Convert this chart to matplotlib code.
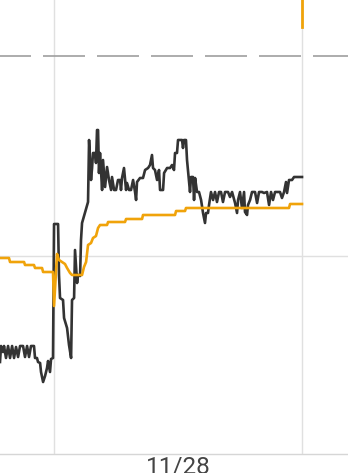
import matplotlib.pyplot as plt

plt.rcParams['font.family'] = ['Roboto', 'DejaVu Sans']

# hours relative to 11/28 00:00
black_t = [-5.23, -5.13, -4.94, -4.84, -4.65, -4.45, -4.26, -4.06, -3.87, -3.68,
           -3.48, -3.29, -3.00, -2.81, -2.61, -2.42, -2.23, -1.94, -1.84, -1.65,
           -1.55, -1.35, -1.26, -1.06, -0.87, -0.68, -0.58, -0.39, -0.29, -0.10,
           0.00, 0.29, 0.39, 0.48, 0.58, 0.87, 0.97, 1.26, 1.45, 1.65,
           1.74, 1.94, 2.03, 2.23, 2.32, 2.52, 2.61, 2.71, 3.29, 3.39,
           3.48, 3.58, 3.68, 3.77, 3.97, 4.06, 4.16, 4.26, 4.35, 4.45,
           4.65, 4.74, 4.94, 5.13, 5.32, 5.52, 5.61, 5.81, 6.00, 6.19,
           6.39, 6.48, 6.58, 6.77, 6.97, 7.06, 7.26, 7.45, 7.65, 7.84,
           7.94, 8.03, 8.32, 8.61, 8.81, 9.10, 9.29, 9.48, 9.58, 9.77,
           9.97, 10.16, 10.26, 10.55, 10.65, 10.94, 11.23, 11.42, 11.61, 11.71,
           11.90, 12.00, 12.39, 12.48, 12.58, 12.77, 12.87, 13.16, 13.26, 13.45,
           13.55, 13.65, 13.84, 14.03, 14.23, 14.42, 14.61, 14.71, 14.90, 15.00,
           15.19, 15.39, 15.58, 15.77, 15.97, 16.16, 16.35, 16.55, 16.84, 17.03,
           17.23, 17.52, 17.71, 17.81, 18.00, 18.19, 18.39, 18.48, 18.68, 18.77,
           18.97, 19.16, 19.45, 19.65, 19.84, 20.13, 20.32, 20.61, 20.81, 21.00,
           21.19, 21.39, 21.87, 22.06, 22.26, 22.45, 22.55, 22.74, 23.03, 23.23,
           24.00]
black_v = [-10.6, -9.0, -9.6, -9.0, -10.2, -9.0, -10.2, -9.0, -10.2, -9.1,
           -10.1, -9.0, -9.0, -10.1, -9.0, -10.1, -9.0, -9.0, -10.2, -10.2,
           -10.6, -10.7, -11.6, -12.6, -12.0, -11.2, -10.5, -11.6, -10.3, -10.2,
           3.2, 3.2, 3.2, -1.9, -4.2, -4.4, -6.2, -7.2, -8.9, -10.2,
           -4.4, -4.2, 0.6, -2.7, -1.9, -2.0, 1.6, 3.3, 5.4, 11.6,
           9.6, 7.6, 8.8, 10.3, 10.3, 9.3, 12.6, 12.6, 8.3, 10.3,
           6.6, 9.6, 6.9, 8.9, 7.6, 6.6, 7.9, 6.6, 6.6, 7.6,
           7.6, 6.6, 7.8, 8.8, 6.6, 7.3, 6.6, 6.6, 7.6, 6.4,
           5.6, 7.4, 7.8, 7.8, 8.6, 8.8, 9.1, 10.1, 8.8, 8.6,
           7.6, 8.6, 6.6, 6.6, 8.3, 8.8, 8.8, 9.1, 8.6, 10.3,
           10.3, 11.6, 11.6, 10.8, 11.6, 11.6, 9.6, 6.4, 7.9, 7.9,
           5.6, 7.8, 6.4, 6.4, 5.6, 4.3, 3.3, 4.3, 4.3, 5.1,
           6.4, 5.6, 6.4, 5.4, 6.4, 6.4, 5.4, 6.4, 6.4, 5.9,
           6.4, 5.3, 4.3, 5.6, 6.4, 4.8, 6.4, 4.4, 4.1, 5.1,
           5.6, 6.4, 6.4, 5.3, 6.4, 6.4, 6.3, 6.4, 5.1, 6.4,
           5.6, 6.4, 6.4, 5.8, 6.4, 7.4, 6.3, 7.6, 7.6, 7.9,
           7.9]

orange_t = [-5.23, -4.36, -4.26, -2.90, -2.81, -1.94, -1.84, -1.16, -1.06, -0.10,
            0.00, 0.29, 0.48, 0.77, 1.06, 1.26, 1.55, 1.74, 2.71, 2.90,
            3.10, 3.29, 3.58, 3.77, 4.06, 4.26, 4.45, 5.13, 5.23, 6.87,
            6.97, 8.52, 8.61, 11.71, 11.81, 12.68, 12.77, 22.74, 22.84, 24.00]
orange_v = [-0.2, -0.2, -0.6, -0.6, -0.9, -0.9, -1.2, -1.2, -1.6, -1.6,
            -5.0, 0.2, -0.4, -0.6, -0.8, -1.2, -1.7, -1.9, -1.9, -1.1,
            -0.6, 1.1, 1.3, 1.8, 2.0, 2.8, 3.1, 3.1, 3.4, 3.4,
            3.7, 3.7, 4.1, 4.1, 4.5, 4.5, 4.8, 4.8, 5.2, 5.2]

# last reading of the orange series, running off the top
spike_t = [24.00, 24.00]
spike_v = [22.9, 30.0]

threshold = 20.0
day_lines = [0, 24]
tick_pos = [12]
tick_labels = ['11/28']

fig = plt.figure(figsize=(3.48, 4.73), dpi=100)
ax = fig.add_axes([0, 19 / 473, 1, 454 / 473])

for d in day_lines:
    ax.axvline(d, color='#e0e0e0', lw=1, zorder=0)
ax.axhline(0, color='#e0e0e0', lw=1, zorder=0)
ax.axhline(threshold, color='#9e9e9e', lw=1.2,
           linestyle=(6.6, (25.2, 7.2)), zorder=1)

ax.plot(orange_t, orange_v, color='#f0a30a', lw=1.9, zorder=3)
ax.plot(spike_t, spike_v, color='#f0a30a', lw=2.0, zorder=3)
ax.plot(black_t, black_v, color='#333333', lw=1.9, zorder=2)

ax.set_xlim(-5.23, 28.45)
ax.set_ylim(-19.8, 25.6)

for s in ['top', 'left', 'right']:
    ax.spines[s].set_visible(False)
ax.spines['bottom'].set_color('#d6d6d6')
ax.spines['bottom'].set_linewidth(1)
ax.set_yticks([])
ax.set_xticks(tick_pos)
ax.set_xticklabels(tick_labels)
ax.tick_params(axis='x', length=0, pad=1, labelsize=17.5, labelcolor='#444444')

fig.savefig('out.png', dpi=100)
